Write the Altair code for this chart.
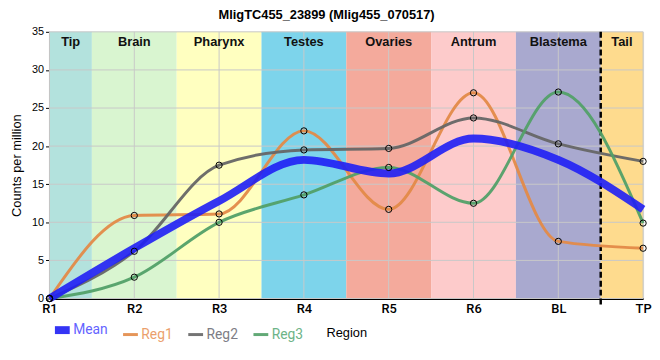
import altair as alt
import pandas as pd

# ---- data ----
codes = ["R1", "R2", "R3", "R4", "R5", "R6", "BL", "TP"]
series = ["Mean", "Reg1", "Reg2", "Reg3"]
mean_vals = [0, 6.6, 12.8, 18.2, 16.4, 21.0, 18.2, 11.7]
reg1_vals = [0, 10.9, 11.1, 22.0, 11.7, 27.0, 7.5, 6.6]
reg2_vals = [0, 6.2, 17.5, 19.5, 19.7, 23.7, 20.3, 18.0]
reg3_vals = [0, 2.8, 10.0, 13.6, 17.2, 12.5, 27.1, 9.9]

region_names = ["Tip", "Brain", "Pharynx", "Testes", "Ovaries", "Antrum", "Blastema", "Tail"]
region_start = [0, 0.5, 1.5, 2.5, 3.5, 4.5, 5.5, 6.5]
region_end = [0.5, 1.5, 2.5, 3.5, 4.5, 5.5, 6.5, 7]
region_colors = ["#b3e2dd", "#d9f5d0", "#ffffc0", "#7dd4eb", "#f4aa9c", "#fdcbcb", "#a9a9cf", "#fedb8e"]
tail_boundary = [6.5]

y_ticks = [0, 5, 10, 15, 20, 25, 30, 35]

series_colors = ["#1f1ff5", "#e38a48", "#666666", "#52a068"]
label_colors = ["#6464ff", "#eb9f6c", "#7d7d85", "#6db487"]

# ---- tables ----
rows = []
for name, vals in zip(series, [mean_vals, reg1_vals, reg2_vals, reg3_vals]):
    for i, v in enumerate(vals):
        rows.append({"series": name, "idx": i, "code": codes[i], "value": v})
df = pd.DataFrame(rows)

regions = pd.DataFrame({
    "name": region_names,
    "start": region_start,
    "end": region_end,
    "col": region_colors,
})
regions["mid"] = (regions["start"] + regions["end"]) / 2

xgrid = pd.DataFrame({"idx": list(range(len(codes)))})
ygrid = pd.DataFrame({"v": y_ticks})
dash_df = pd.DataFrame({"x": tail_boundary})

W, H = 601, 270

label_expr = "[" + ",".join("'%s'" % c for c in codes) + "][datum.value]"
lc_expr = "{" + ",".join("'%s':'%s'" % (s, c) for s, c in zip(series, label_colors)) + "}[datum.label]"

xscale = alt.Scale(domain=[0, 7], nice=False, zero=False)
yscale = alt.Scale(domain=[0, 35], nice=False, zero=True)

xaxis = alt.Axis(
    values=list(range(len(codes))), labelExpr=label_expr, title="Region",
    grid=False, ticks=False, domainColor="black", domainWidth=2,
    labelFont="Roboto", labelFontSize=13, labelFontWeight=500, labelColor="black",
    labelPadding=4, titleFont="Liberation Sans", titleFontSize=13, titleFontWeight="normal",
    titleColor="black", titlePadding=11, labelFlush=False,
)
yaxis = alt.Axis(
    values=y_ticks, title="Counts per million", grid=False,
    tickSize=4, tickColor="black", domainColor="black", domainWidth=2,
    labelFont="Liberation Sans", labelFontSize=11, labelColor="black", labelPadding=2,
    titleFont="Liberation Sans", titleFontSize=13, titleFontWeight="normal", titleColor="black",
    titlePadding=8, labelOverlap=False, labelFlush=False,
)


def X(field):
    return alt.X(field, scale=xscale, axis=xaxis, title="Region")


def Y(field):
    return alt.Y(field, scale=yscale, axis=yaxis, title="Counts per million")


rects = alt.Chart(regions).mark_rect(strokeWidth=0).encode(
    x=X("start:Q"),
    x2="end:Q",
    y=alt.value(0),
    y2=alt.value(H),
    fill=alt.Fill("col:N", scale=None),
)

vgrid = alt.Chart(xgrid).mark_rule(color="#c8c8c8", strokeWidth=1).encode(
    x=X("idx:Q"),
)
hgrid = alt.Chart(ygrid).mark_rule(color="#c8c8c8", strokeWidth=1).encode(
    y=Y("v:Q"),
)

labels = alt.Chart(regions).mark_text(
    font="Liberation Sans", fontSize=13, fontWeight="bold", color="#111111",
    align="center", baseline="alphabetic",
).encode(
    x=X("mid:Q"),
    y=alt.value(14),
    text="name:N",
)

dash = alt.Chart(dash_df).mark_rule(color="black", strokeWidth=2.5, strokeDash=[6, 3]).encode(
    x=X("x:Q"),
    y=alt.value(0),
    y2=alt.value(H + 6),
)

color_enc = alt.Color(
    "series:N",
    scale=alt.Scale(domain=series, range=series_colors),
    legend=alt.Legend(
        orient="none", legendX=6, legendY=295, direction="horizontal", title=None,
        symbolType="stroke", symbolSize=225, labelFont="Roboto", labelFontSize=14,
        labelColor=alt.ExprRef(lc_expr),
        symbolStrokeWidth=alt.ExprRef("datum.value == 'Mean' ? 8 : 3"),
        symbolOpacity=0.9,
        columnPadding=9, labelOffset=4,
    ),
)

reg_lines = alt.Chart(df).transform_filter("datum.series != 'Mean'").mark_line(
    interpolate="monotone", opacity=0.95, strokeWidth=3,
).encode(
    x=X("idx:Q"),
    y=Y("value:Q"),
    color=color_enc,
)

mean_line = alt.Chart(df).transform_filter("datum.series == 'Mean'").mark_line(
    interpolate="monotone", opacity=0.9, strokeWidth=8,
).encode(
    x=X("idx:Q"),
    y=Y("value:Q"),
    color=color_enc,
)

points = alt.Chart(df).transform_filter("datum.series != 'Mean'").mark_point(
    shape="circle", filled=False, stroke="black", strokeWidth=1, size=40, opacity=1,
).encode(
    x=X("idx:Q"),
    y=Y("value:Q"),
    detail="series:N",
)

chart = alt.layer(
    rects, vgrid, hgrid, labels, dash, reg_lines, mean_line, points
).properties(
    width=W,
    height=H,
    title=alt.TitleParams(
        "MligTC455_23899 (Mlig455_070517)", font="Liberation Sans", fontSize=13,
        fontWeight="bold", color="black", anchor="middle", frame="group", dx=-20, offset=4,
    ),
    autosize=alt.AutoSizeParams(type="none"),
    padding={"left": 42, "top": 22, "right": 9, "bottom": 50},
).configure_view(
    stroke="black", strokeWidth=1.5,
).configure(background="white")

chart.save("out.html", embed_options={"renderer": "svg", "actions": False})
